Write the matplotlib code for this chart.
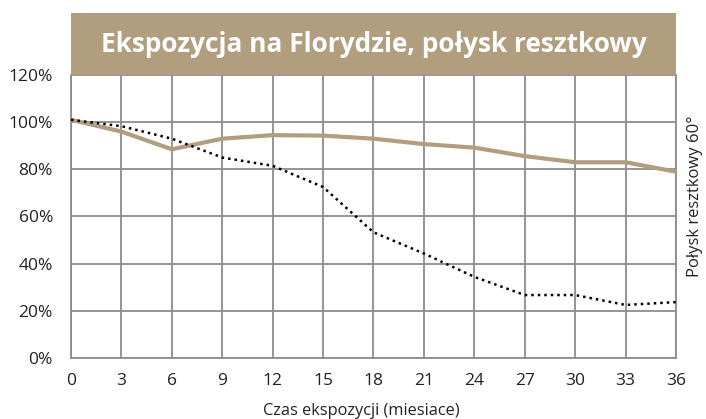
import numpy as np
import matplotlib.pyplot as plt
from matplotlib.ticker import FuncFormatter

# Data
months = [0, 3, 6, 9, 12, 15, 18, 21, 24, 27, 30, 33, 36]
gloss_tan = [101, 96, 88.5, 93, 94.5, 94.3, 93, 90.7, 89.2, 85.6, 83, 83, 79]
gloss_dotted = [101, 98.3, 93, 85, 81.5, 72.5, 53.3, 44.3, 34.4, 26.7, 26.7, 22.5, 23.7]
y_ticks = [0, 20, 40, 60, 80, 100, 120]

tan = '#B09E7F'
grid_col = '#8C8C8C'
plt.rcParams['font.family'] = ['Open Sans', 'DejaVu Sans']

W, H = 706, 419
fig = plt.figure(figsize=(W / 100, H / 100), dpi=100)
ax = fig.add_axes([71 / W, 1 - 358 / H, (676 - 71) / W, (358 - 75) / H])

ax.plot(months, gloss_tan, color=tan, lw=3, solid_capstyle='butt', zorder=3)
ax.plot(months, gloss_dotted, color='black', lw=1.8, linestyle=(0, (1, 1.6)),
        zorder=4)

ax.set_xlim(0, 36)
ax.set_ylim(0, 120)
ax.set_xticks(months)
ax.set_yticks(y_ticks)
ax.yaxis.set_major_formatter(FuncFormatter(lambda v, p: f'{v:.0f}%'))
ax.grid(True, color=grid_col, lw=1.3)
ax.set_axisbelow(True)
for s in ax.spines.values():
    s.set_color(grid_col)
    s.set_linewidth(1.3)
ax.spines['top'].set_visible(False)
ax.tick_params(length=0, labelsize=12.5, colors='#222222')
ax.tick_params(axis='y', pad=13)
ax.tick_params(axis='x', pad=11)

fig.text(361 / W, 1 - 411 / H, 'Czas ekspozycji (miesiace)', ha='center',
         va='center', fontsize=11.8, color='#222222')
fig.text(695 / W, 1 - 196 / H, 'Połysk resztkowy 60°', rotation=90,
         ha='center', va='center', fontsize=12, color='#222222')

# title band
band = fig.add_axes([71 / W, 1 - 75 / H, (676 - 71) / W, (75 - 13) / H])
band.set_facecolor(tan)
band.set_xticks([])
band.set_yticks([])
for s in band.spines.values():
    s.set_visible(False)
band.text(0.5, 0.5, 'Ekspozycja na Florydzie, połysk resztkowy', color='white',
          fontsize=18.9, fontweight='bold', ha='center', va='center',
          transform=band.transAxes)

fig.savefig('out.png', dpi=100)
